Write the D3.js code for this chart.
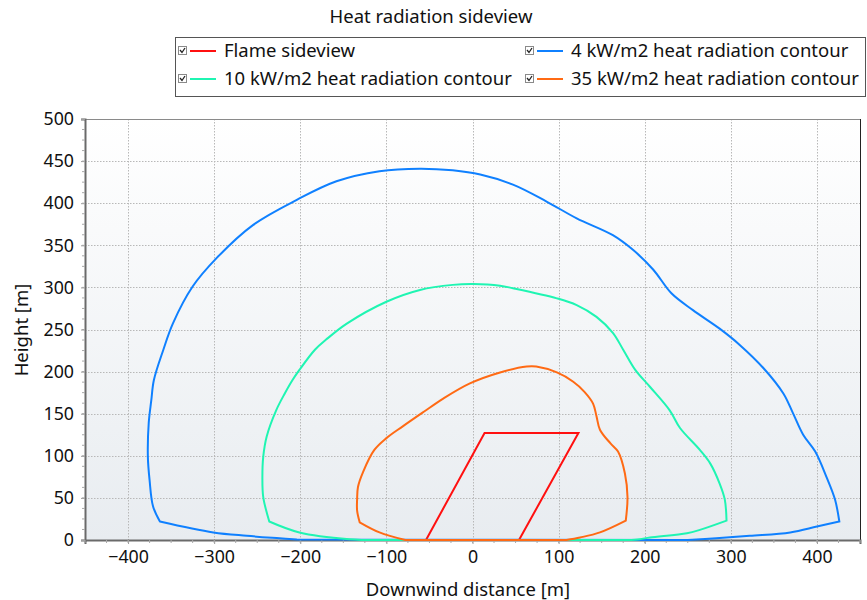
<!DOCTYPE html>
<html>
<head>
<meta charset="utf-8">
<script src="https://cdn.jsdelivr.net/npm/d3@7"></script>
<style>
  html, body { margin: 0; padding: 0; background: #ffffff; }
  svg { display: block; font-family: "Noto Sans", "Open Sans", sans-serif; }
</style>
</head>
<body>
<svg id="chart" width="867" height="600"></svg>
<script>
// Flame outline and heat radiation contours, [downwind distance m, height m]
const flameSideview = [[-54, 0], [14, 127], [123, 127], [54, 0]];

const contour4 = [
  [-204, 0.5], [-224, 2], [-262, 5], [-301, 9], [-363, 22], [-371, 40], [-375, 71],
  [-377, 99], [-376, 139], [-373, 166], [-370, 190], [-359, 226], [-348, 257],
  [-325, 301], [-297, 335], [-255, 374], [-204, 404], [-158, 426], [-108, 438],
  [-61, 441], [-23, 439], [9, 434], [47, 422], [86, 402], [121, 382], [163, 362],
  [187, 344], [210, 321], [231, 293], [256, 273], [287, 251],
  [310, 232], [338, 204], [361, 174], [372, 151], [384, 125], [398, 105], [411, 75],
  [421, 48], [426, 22], [400, 16], [369, 9], [322, 5], [283, 2], [250, 0]
];

const contour10 = [
  [-110, 0], [-143, 1], [-201, 9], [-236, 22], [-243, 51], [-244, 75], [-243, 99],
  [-239, 123], [-228, 154], [-218, 174], [-209, 190], [-201, 202], [-183, 226],
  [-170, 238], [-146, 257], [-100, 283], [-61, 297], [-23, 303], [1, 304], [32, 302],
  [47, 299], [98, 287], [121, 279], [144, 265], [163, 246], [175, 226],
  [189, 202], [206, 182], [229, 154], [241, 133], [264, 107], [276, 91], [287, 67],
  [293, 48], [295, 23], [264, 12], [249, 8], [206, 3], [194, 1], [180, 0]
];

const contour35 = [
  [-78, 0], [-108, 9], [-131, 21], [-134, 35], [-134, 48], [-133, 63], [-127, 81],
  [-114, 107], [-100, 121], [-81, 135], [-57, 152], [-34, 168], [-3, 186], [32, 199],
  [63, 206], [74, 206], [98, 199], [117, 188], [130, 176], [140, 162], [144, 147],
  [148, 131], [160, 115], [169, 105], [177, 79], [180, 51], [178, 23], [148, 9],
  [125, 3], [109, 0]
];

// indices of the sharp ground-level corners ("feet") of each contour
const contourFeet = [null, [4, 39], [3, 34], [2, 26]];

const seriesNames = [
  "Flame sideview",
  "4 kW/m2 heat radiation contour",
  "10 kW/m2 heat radiation contour",
  "35 kW/m2 heat radiation contour"
];
const seriesColors = ["#ff1010", "#0f80ff", "#1ff5b2", "#ff6a14"];
const seriesData = [flameSideview, contour4, contour10, contour35];

const xTicks = [-400, -300, -200, -100, 0, 100, 200, 300, 400];
const yTicks = [0, 50, 100, 150, 200, 250, 300, 350, 400, 450, 500];

const chartTitle = "Heat radiation sideview";
const xTitle = "Downwind distance [m]";
const yTitle = "Height [m]";

// ---- layout ----
const svg = d3.select("#chart");
const x = d3.scaleLinear().domain([-450, 450]).range([85, 860]);
const y = d3.scaleLinear().domain([0, 500]).range([540, 119]);
const [x0, x1] = x.range();
const [yb, yt] = y.range();
const labelFont = "18.5px";
const tickFont = "17.8px";

// plot background gradient
const defs = svg.append("defs");
const grad = defs.append("linearGradient").attr("id", "plotBg")
  .attr("x1", 0).attr("y1", 0).attr("x2", 0).attr("y2", 1);
grad.append("stop").attr("offset", "0%").attr("stop-color", "#ffffff");
grad.append("stop").attr("offset", "100%").attr("stop-color", "#e8ecf0");

svg.append("rect")
  .attr("x", x0).attr("y", yt).attr("width", x1 - x0).attr("height", yb - yt)
  .attr("fill", "url(#plotBg)");

// grid lines
const grid = svg.append("g").attr("stroke", "#b8b8b8").attr("stroke-width", 1)
  .attr("stroke-dasharray", "1.5,1.5");
grid.selectAll("line.v").data(xTicks).join("line").attr("class", "v")
  .attr("x1", d => Math.round(x(d)) + 0.5).attr("x2", d => Math.round(x(d)) + 0.5)
  .attr("y1", yt).attr("y2", yb);
grid.selectAll("line.h").data(yTicks.filter(d => d > 0 && d < 500)).join("line").attr("class", "h")
  .attr("y1", d => Math.round(y(d)) + 0.5).attr("y2", d => Math.round(y(d)) + 0.5)
  .attr("x1", x0).attr("x2", x1);

// frame: top and right borders
svg.append("line").attr("x1", x0).attr("x2", x1).attr("y1", yt + 0.5).attr("y2", yt + 0.5)
  .attr("stroke", "#8a8a8a").attr("stroke-width", 1);
svg.append("line").attr("x1", x1 + 0.5).attr("x2", x1 + 0.5).attr("y1", yt).attr("y2", yb)
  .attr("stroke", "#222222").attr("stroke-width", 1);

// axes with minor ticks
const xMinor = d3.range(-450, 451, 25);
const yMinor = d3.range(0, 501, 12.5);

const xAxis = svg.append("g").attr("transform", `translate(0,${yb})`)
  .call(d3.axisBottom(x).tickValues(xTicks).tickSize(4).tickPadding(6).tickFormat(d3.format("d")));
const yAxis = svg.append("g").attr("transform", `translate(${x0},0)`)
  .call(d3.axisLeft(y).tickValues(yTicks).tickSize(4).tickPadding(7).tickFormat(d3.format("d")));

[xAxis, yAxis].forEach(g => {
  g.select(".domain").attr("stroke", "#6a6a6a").attr("stroke-width", 2);
  g.selectAll(".tick line").attr("stroke", "#9a9a9a");
  g.selectAll(".tick text").attr("fill", "#111111")
    .style("font-size", tickFont).style("font-family", "'Noto Sans', sans-serif");
});

svg.append("g").attr("stroke", "#a8a8a8").selectAll("line").data(xMinor).join("line")
  .attr("x1", d => x(d)).attr("x2", d => x(d)).attr("y1", yb).attr("y2", yb + 3);
svg.append("g").attr("stroke", "#a8a8a8").selectAll("line").data(yMinor).join("line")
  .attr("y1", d => y(d)).attr("y2", d => y(d)).attr("x1", x0 - 3).attr("x2", x0);

// series: flame as straight segments; contours smoothed piecewise so that
// the corners where they meet the ground stay sharp
const flameLine = d3.line().x(d => x(d[0])).y(d => y(d[1]));
const smoothLine = d3.line().x(d => x(d[0])).y(d => y(d[1]))
  .curve(d3.curveCatmullRom.alpha(0.5));

function contourPath(data, feet) {
  const [a, b] = feet;
  const parts = [data.slice(0, a + 1), data.slice(a, b + 1), data.slice(b)];
  return parts.map((p, k) => {
    const s = smoothLine(p);
    return k === 0 ? s : s.replace(/^M[^A-Za-z]*/, "");
  }).join("") + "Z";
}

const plot = svg.append("g");
seriesData.forEach((data, i) => {
  plot.append("path")
    .datum(data)
    .attr("d", d => i === 0 ? flameLine(d) + "Z" : contourPath(d, contourFeet[i]))
    .attr("fill", "none")
    .attr("stroke", seriesColors[i])
    .attr("stroke-width", 2)
    .attr("stroke-linejoin", "miter");
});

// titles
svg.append("text").attr("x", 431).attr("y", 23).attr("text-anchor", "middle")
  .style("font-size", labelFont).attr("fill", "#111").text(chartTitle);
svg.append("text").attr("x", 468).attr("y", 596).attr("text-anchor", "middle")
  .style("font-size", labelFont).attr("fill", "#111").text(xTitle);
svg.append("text").attr("transform", "translate(28,330) rotate(-90)").attr("text-anchor", "middle")
  .style("font-size", labelFont).attr("fill", "#111").text(yTitle);

// legend
const legend = svg.append("g");
legend.append("rect").attr("x", 175.5).attr("y", 37.5).attr("width", 690).attr("height", 59)
  .attr("fill", "#ffffff").attr("stroke", "#555555").attr("stroke-width", 1);

const legendPos = [[178, 51], [525, 51], [178, 79], [525, 79]];
seriesNames.forEach((name, si) => {
  const [lx, ly] = legendPos[si];
  const item = legend.append("g").attr("transform", `translate(${lx},${ly})`);
  // checkbox
  item.append("rect").attr("x", 0.5).attr("y", -4.5).attr("width", 8).attr("height", 8)
    .attr("fill", "#ffffff").attr("stroke", "#8a8a8a").attr("stroke-width", 1);
  item.append("path").attr("d", "M2,-1 L4,1.5 L7,-3").attr("fill", "none")
    .attr("stroke", "#222").attr("stroke-width", 1.3);
  item.append("line").attr("x1", 12).attr("x2", 38).attr("y1", 0).attr("y2", 0)
    .attr("stroke", seriesColors[si]).attr("stroke-width", 2);
  item.append("text").attr("x", 46).attr("y", 0).attr("dy", "0.35em")
    .style("font-size", labelFont).attr("fill", "#111").text(name);
});
</script>
</body>
</html>
